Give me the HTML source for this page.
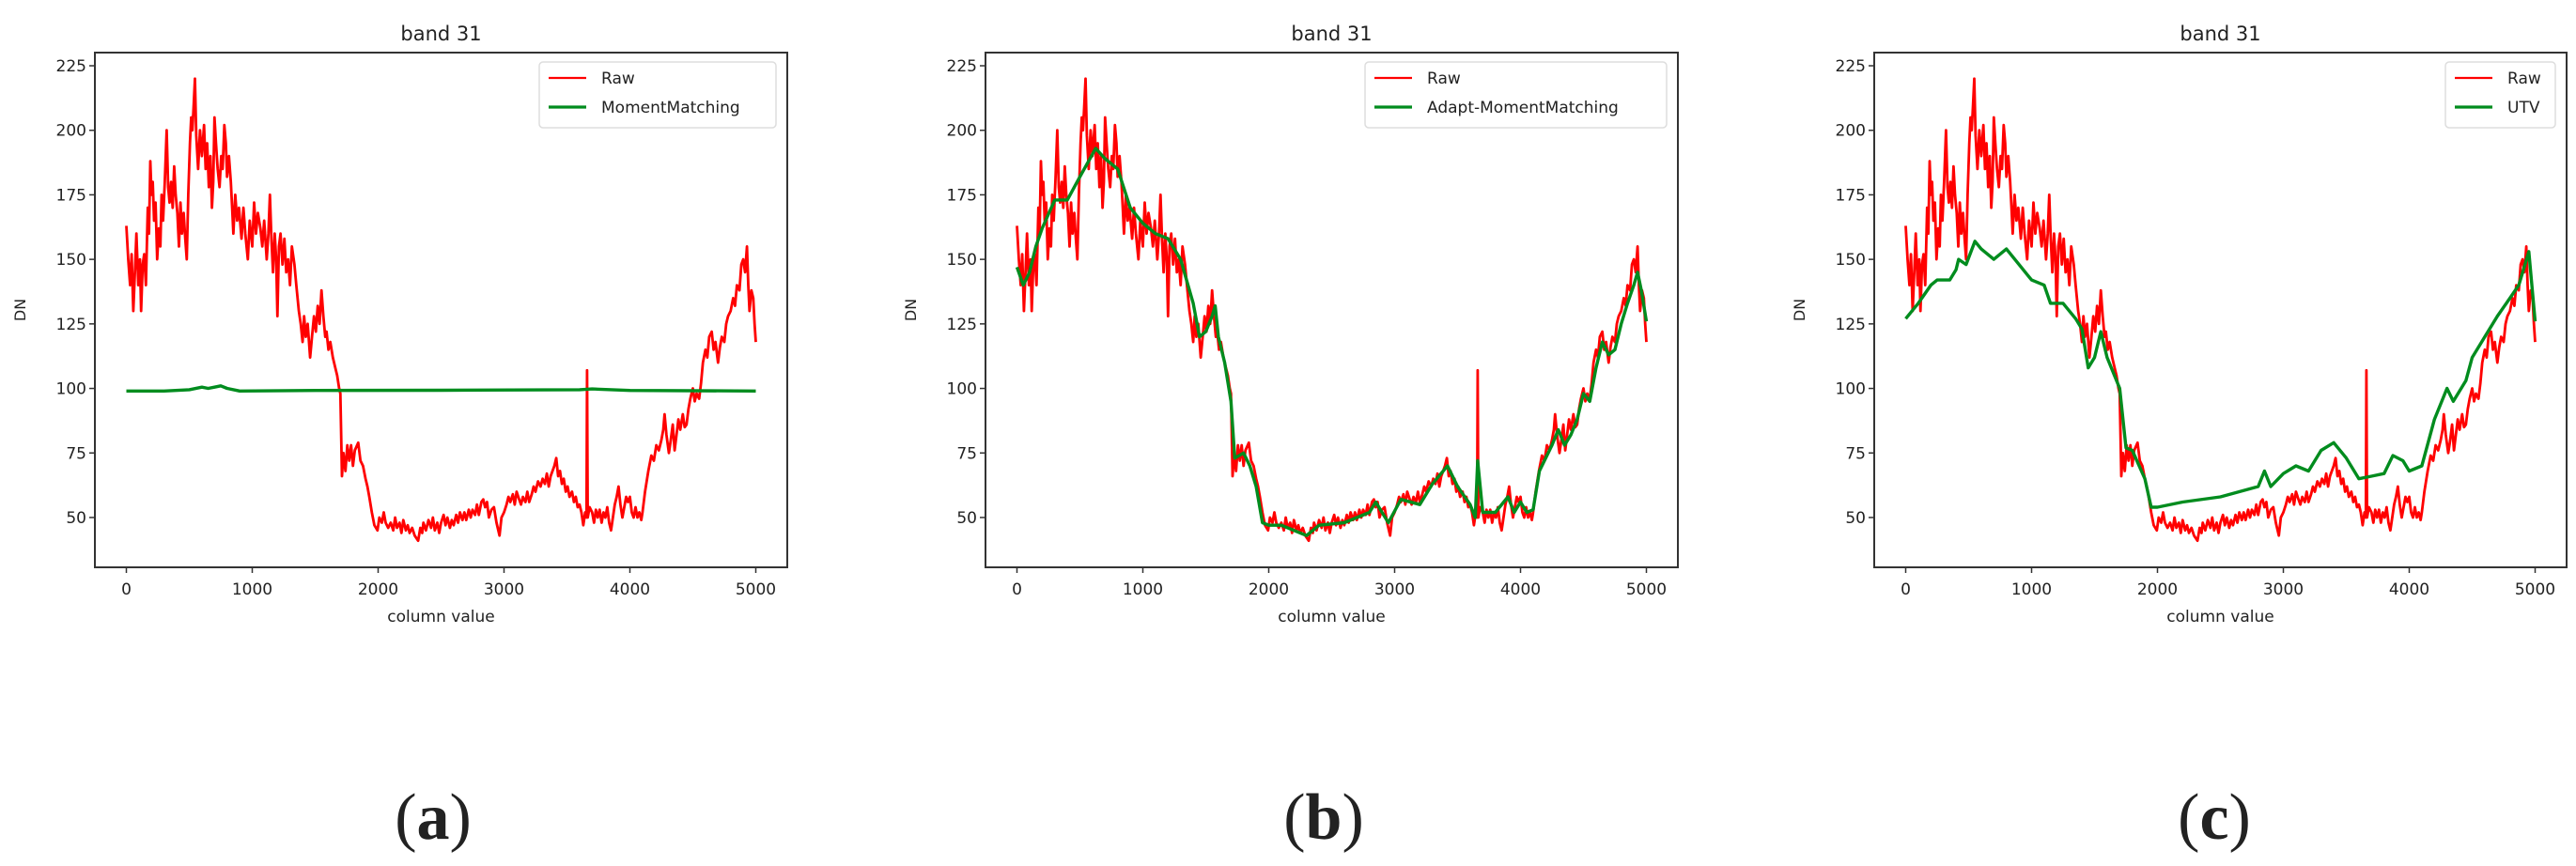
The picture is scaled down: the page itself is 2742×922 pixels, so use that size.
<!DOCTYPE html>
<html><head><meta charset="utf-8"><style>
body{margin:0;background:#fff;width:2742px;height:922px;overflow:hidden}
svg{display:block}
text{font-family:"DejaVu Sans","Liberation Sans",sans-serif;fill:#222}
</style></head><body>
<svg id="fig" width="2742" height="922" viewBox="0 0 2742 922"></svg>
<script>
const xTicks=[0,1000,2000,3000,4000,5000];
const yTicks=[50,75,100,125,150,175,200,225];
const rawX=[0,15,30,42,55,68,80,95,108,117,130,142,155,170,180,190,200,210,220,232,245,258,270,280,292,305,320,332,343,355,368,380,392,405,418,430,442,455,468,480,492,505,515,525,535,545,555,570,585,600,617,630,642,655,668,680,690,700,712,725,740,754,765,778,790,800,815,830,840,850,865,880,895,915,930,945,965,980,1000,1015,1030,1045,1065,1080,1095,1115,1128,1140,1152,1165,1178,1190,1200,1212,1225,1240,1255,1270,1285,1300,1315,1335,1350,1370,1385,1400,1412,1425,1440,1460,1475,1490,1505,1520,1535,1550,1565,1580,1590,1605,1620,1640,1660,1675,1690,1700,1713,1725,1740,1755,1770,1785,1800,1815,1842,1860,1880,1900,1915,1930,1950,1970,1995,2010,2030,2045,2060,2080,2100,2120,2135,2150,2170,2185,2200,2220,2235,2250,2270,2290,2318,2335,2350,2360,2380,2400,2420,2435,2450,2470,2485,2500,2520,2535,2550,2570,2585,2600,2620,2635,2650,2670,2685,2700,2720,2735,2750,2770,2785,2800,2820,2835,2850,2865,2880,2900,2920,2940,2964,2980,3000,3020,3035,3050,3070,3085,3100,3120,3135,3150,3170,3185,3200,3220,3235,3250,3270,3290,3307,3325,3340,3355,3370,3385,3400,3415,3430,3445,3460,3475,3490,3505,3520,3540,3555,3570,3585,3600,3615,3630,3645,3655,3660,3665,3680,3700,3715,3730,3745,3760,3775,3790,3805,3820,3835,3850,3865,3880,3895,3910,3925,3940,3955,3970,3985,4000,4015,4030,4045,4060,4075,4090,4100,4120,4146,4170,4190,4210,4230,4250,4265,4275,4290,4310,4325,4340,4355,4370,4385,4400,4420,4435,4450,4465,4480,4500,4515,4530,4550,4565,4580,4600,4615,4630,4650,4665,4680,4700,4715,4730,4750,4765,4780,4800,4820,4835,4850,4870,4885,4900,4915,4930,4940,4950,4965,4980,4990,5000];
const rawY=[163,150,140,152,130,145,160,140,150,130,148,152,140,170,160,188,175,180,165,172,150,162,155,175,165,180,200,178,172,180,170,186,175,168,155,172,160,168,158,150,175,195,205,200,210,220,198,185,200,190,202,185,195,178,190,170,180,205,195,185,178,190,185,202,195,182,190,180,170,160,175,165,170,158,170,160,150,165,155,172,160,168,162,155,165,150,160,175,158,145,160,150,128,155,160,148,158,145,150,140,155,148,140,130,125,118,128,120,125,112,120,128,122,132,125,138,128,120,122,115,118,112,108,105,100,98,66,75,68,78,72,78,70,76,79,72,70,65,62,58,52,47,45,50,48,52,48,46,48,45,50,46,48,44,49,45,47,44,46,43,41,46,44,48,45,49,46,50,45,48,44,48,51,47,50,46,49,47,51,48,52,49,52,49,53,50,53,51,55,51,56,57,54,56,50,53,54,48,43,50,52,55,58,56,59,55,60,57,55,58,56,60,56,59,62,60,64,62,65,63,67,62,66,68,70,73,66,68,63,65,60,62,58,60,56,58,54,55,52,47,52,50,107,50,54,52,48,53,50,53,48,52,50,54,48,45,50,55,58,62,55,50,54,58,56,58,52,50,54,50,52,49,52,60,68,74,72,78,76,80,84,90,82,75,80,86,76,82,88,84,90,85,86,92,96,100,95,98,96,102,110,115,112,120,122,115,118,110,116,120,118,125,128,130,135,132,140,138,148,150,145,155,140,130,138,135,125,118];
const mmX=[0,300,500,600,650,700,750,800,900,1500,2500,3600,3700,4000,5000];
const mmY=[99,99,99.5,100.5,100,100.5,101,100,99,99.2,99.3,99.5,99.8,99.2,99];
const ammX=[0,50,100,150,200,300,400,500,625,700,800,900,1000,1100,1200,1300,1400,1450,1500,1550,1575,1600,1650,1700,1730,1800,1850,1900,1950,2000,2100,2300,2400,2600,2800,2850,2950,3050,3200,3300,3420,3500,3600,3640,3660,3700,3800,3900,3950,4000,4050,4100,4150,4250,4300,4350,4400,4450,4500,4550,4600,4650,4700,4750,4800,4850,4900,4930,4960,5000];
const ammY=[147,140,145,155,162,173,173,182,193,189,185,170,164,160,158,150,133,120,122,128,132,120,110,95,73,75,70,62,48,47,47,43,47,48,52,56,48,57,55,63,70,62,55,50,72,52,52,58,52,56,52,53,68,78,84,78,82,88,98,95,108,118,113,115,125,133,140,145,138,126];
const utvX=[0,50,100,200,250,350,400,420,480,550,600,700,800,900,1000,1100,1150,1250,1350,1400,1450,1500,1550,1600,1700,1750,1800,1900,1950,2000,2200,2500,2800,2850,2900,3000,3100,3200,3300,3400,3500,3600,3700,3800,3870,3950,4000,4100,4200,4300,4350,4450,4500,4600,4700,4800,4870,4950,5000];
const utvY=[127,130,133,140,142,142,146,150,148,157,154,150,154,148,142,140,133,133,127,123,108,112,122,112,100,77,76,65,54,54,56,58,62,68,62,67,70,68,76,79,73,65,66,67,74,72,68,70,88,100,95,103,112,120,128,135,140,153,126];
const panels=[
 {dx:0,name:'MomentMatching',gx:mmX,gy:mmY,lx:574,lw:252,label:'a',cx:461},
 {dx:948,name:'Adapt-MomentMatching',gx:ammX,gy:ammY,lx:1453,lw:321,label:'b',cx:1409},
 {dx:1894,name:'UTV',gx:utvX,gy:utvY,lx:2603,lw:117,label:'c',cx:2357}
];
const NS='http://www.w3.org/2000/svg';
const svg=document.getElementById('fig');
function mk(tag,attrs,parent){const e=document.createElementNS(NS,tag);for(const k in attrs)e.setAttribute(k,attrs[k]);(parent||svg).appendChild(e);return e;}
panels.forEach(p=>{
 const L=101+p.dx,R=838+p.dx,T=56,B=604;
 const sx=v=>L+(v+250)/5500*(R-L);
 const sy=v=>B-(v-30.7)/(230.1-30.7)*(B-T);
 const g=mk('g',{});
 
 
 const title=mk('text',{x:(L+R)/2,y:43,'text-anchor':'middle','font-size':21},g);title.textContent='band 31';
 
 
 const path=(xs,ys)=>xs.map((x,i)=>(i?'L':'M')+sx(x).toFixed(1)+','+sy(ys[i]).toFixed(1)).join('');
 const raw=mk('path',{d:path(rawX,rawY),fill:'none',stroke:'#ff0000','stroke-width':2.8,'stroke-linejoin':'round'},g);
 
 
 const gr=mk('path',{d:path(p.gx,p.gy),fill:'none',stroke:'#008c1e','stroke-width':3.4,'stroke-linejoin':'round'},g);
 
 
 const ax=mk('rect',{x:L,y:T,width:R-L,height:B-T,fill:'none',stroke:'#333','stroke-width':2},g);
 
 
 xTicks.forEach(t=>{
  mk('line',{x1:sx(t),x2:sx(t),y1:B,y2:B+6,stroke:'#333','stroke-width':1.5},g);
  const tx=mk('text',{x:sx(t),y:B+29,'text-anchor':'middle','font-size':17},g);tx.textContent=t;
  
  
 });
 yTicks.forEach(t=>{
  mk('line',{x1:L-6,x2:L,y1:sy(t),y2:sy(t),stroke:'#333','stroke-width':1.5},g);
  const tx=mk('text',{x:L-9,y:sy(t)+6,'text-anchor':'end','font-size':17},g);tx.textContent=t;
  
  
 });
 const xl=mk('text',{x:(L+R)/2,y:662,'text-anchor':'middle','font-size':17},g);xl.textContent='column value';
 
 
 const yl=mk('text',{x:0,y:0,'text-anchor':'middle','font-size':16,transform:`translate(${L-74},330) rotate(-90)`},g);yl.textContent='DN';
 
 
 const lg=mk('g',{},g);
 
 
 mk('rect',{x:p.lx,y:66,width:p.lw,height:70,rx:4,fill:'#fff',stroke:'#ddd','stroke-width':1.5},lg);
 mk('line',{x1:p.lx+10,x2:p.lx+50,y1:83,y2:83,stroke:'#ff0000','stroke-width':2.2},lg);
 mk('line',{x1:p.lx+10,x2:p.lx+50,y1:114,y2:114,stroke:'#008c1e','stroke-width':3.2},lg);
 const t1=mk('text',{x:p.lx+66,y:89,'font-size':17},lg);t1.textContent='Raw';
 
 
 const t2=mk('text',{x:p.lx+66,y:120,'font-size':17},lg);t2.textContent=p.name;
 
 
 const lab=mk('text',{x:p.cx,y:893,'text-anchor':'middle','font-size':70,style:'font-family:"Liberation Serif",serif'},svg);
 lab.innerHTML='(<tspan font-weight="bold">'+p.label+'</tspan>)';
 
 
});
</script>
</body></html>
